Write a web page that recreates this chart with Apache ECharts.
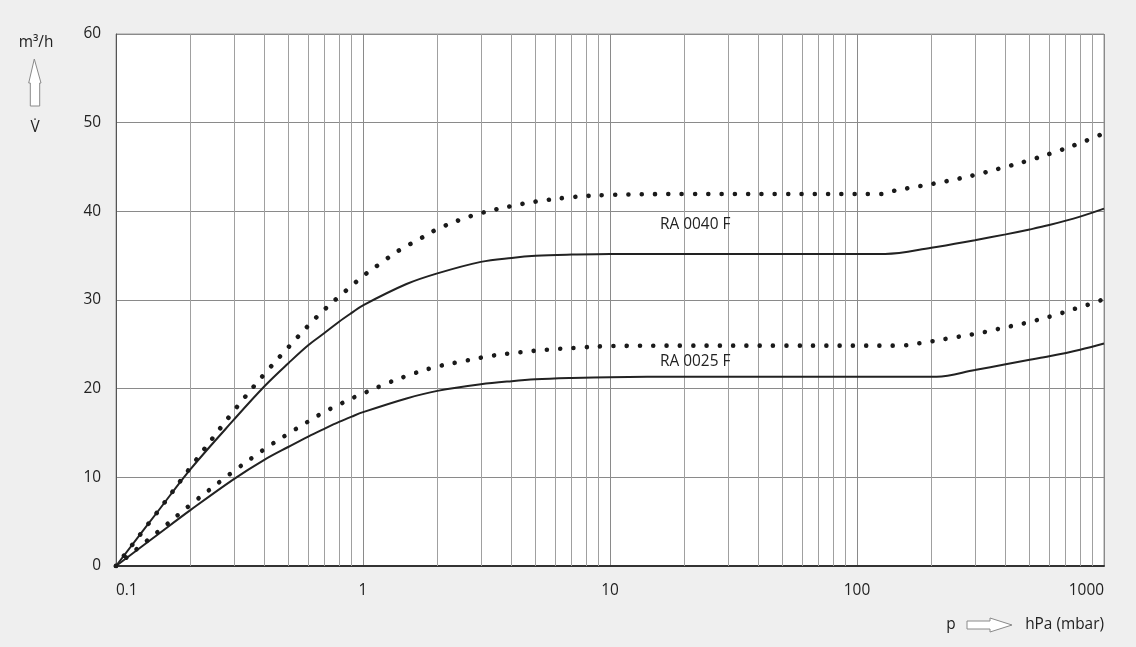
<!DOCTYPE html>
<html><head><meta charset="utf-8">
<script src="https://cdn.jsdelivr.net/npm/echarts@6/dist/echarts.min.js"></script>
<style>html,body{margin:0;padding:0;background:#efefef;}#c{width:1136px;height:647px;}</style>
</head><body><div id="c"></div>
<script>
// ---- data ----
const xTickLabels = [0.1, 1, 10, 100, 1000];
const minorGridP = [0.2,0.3,0.4,0.5,0.6,0.7,0.8,0.9, 2,3,4,5,6,7,8,9, 20,30,40,50,60,70,80,90, 200,300,400,500,600,700,800,900];
const yTicks = [0, 10, 20, 30, 40, 50, 60];

const p40 = [0.1,0.15,0.2,0.3,0.4,0.5,0.6,0.7,0.8,0.9,1,1.5,2,3,4,5,7,10,20,50,130,200,300,400,500,600,800,1000];
const v40 = [0,6.4,10.9,16.5,20.3,22.9,24.9,26.3,27.55,28.55,29.4,31.8,33.0,34.3,34.75,34.98,35.12,35.2,35.2,35.2,35.2,35.9,36.75,37.4,37.95,38.45,39.4,40.3];

const p40max = [0.1,0.15,0.2,0.3,0.4,0.5,0.6,0.7,0.8,0.9,1,1.2,1.4,1.7,2,2.5,3,4,5,7,10,20,50,125,140,180,230,300,380,490,620,800,1000];
const v40max = [0,6.4,11.1,17.5,21.7,24.7,27.1,28.95,30.4,31.6,32.7,34.3,35.6,36.9,38.0,39.1,39.8,40.6,41.1,41.6,41.85,41.95,41.95,41.95,42.3,42.85,43.4,44.1,44.85,45.7,46.6,47.7,48.8];

const p25 = [0.1,0.15,0.2,0.3,0.4,0.5,0.6,0.7,0.8,0.9,1,1.5,2,3,4,5,7,10,20,50,100,210,300,400,500,600,800,1000];
const v25 = [0,3.7,6.3,9.8,12.0,13.45,14.6,15.5,16.25,16.85,17.35,18.9,19.75,20.5,20.85,21.05,21.2,21.3,21.35,21.35,21.35,21.35,22.1,22.75,23.25,23.65,24.4,25.1];

const p25max = [0.1,0.15,0.2,0.3,0.4,0.5,0.6,0.7,0.8,0.9,1,1.25,1.6,2,2.6,3.3,4.3,5.6,7.2,10,20,50,150,176,197,250,290,330,420,480,616,780,890,1000];
const v25max = [0,4.0,6.9,10.7,13.2,14.95,16.3,17.4,18.2,18.9,19.45,20.6,21.7,22.5,23.15,23.7,24.1,24.4,24.6,24.8,24.85,24.85,24.85,25.1,25.3,25.8,26.1,26.4,27.05,27.4,28.2,29.1,29.6,30.1];

const curveNames = ['RA 0040 F', 'RA 0025 F'];
// ---- chart ----
const zip = (a, b) => a.map((x, i) => [x, b[i]]);
const FONT = '"Open Sans", "Noto Sans", sans-serif';
const FS = 15.4;
const solid = {type:'solid', width:2, color:'#222'};
const dotted = {type:[0.01, 13.3], cap:'round', width:4.6, color:'#1a1a1a'};

const chart = echarts.init(document.getElementById('c'), null, {renderer:'canvas'});
chart.setOption({
  backgroundColor:'#efefef',
  animation:false,
  textStyle:{fontFamily:FONT},
  grid:{left:116, right:32, top:34, bottom:81, show:true, backgroundColor:'#ffffff', borderColor:'#9a9a9a', borderWidth:1},
  xAxis:{
    type:'log', logBase:10, min:0.1, max:1000,
    axisLine:{show:true, lineStyle:{color:'#333', width:2}},
    axisTick:{show:false},
    axisLabel:{color:'#222', fontSize:FS, margin:17, fontFamily:FONT,
      alignMinLabel:'left', alignMaxLabel:'right',
      formatter:v => { const t = xTickLabels.find(x => Math.abs(x - v)/x < 1e-6); return t === undefined ? '' : String(t); }},
    splitLine:{show:true, lineStyle:{color:'#8a8a8a', width:1}}
  },
  yAxis:{
    type:'value', min:yTicks[0], max:yTicks[yTicks.length-1], interval:10,
    axisLine:{show:true, lineStyle:{color:'#555', width:1}},
    axisTick:{show:false},
    axisLabel:{color:'#222', fontSize:FS, margin:15, fontFamily:FONT},
    splitLine:{show:true, lineStyle:{color:'#8a8a8a', width:1}}
  },
  series:[
    {type:'line', name:'grid', data:[], silent:true,
     markLine:{silent:true, symbol:'none', label:{show:false}, animation:false,
       lineStyle:{color:'#a0a0a0', width:1, type:'solid'},
       data: minorGridP.map(p => ({xAxis:p}))}},
    {type:'line', name:curveNames[0], data:zip(p40, v40), smooth:0.35, showSymbol:false, lineStyle:solid, z:5},
    {type:'line', name:curveNames[0]+' max', data:zip(p40max, v40max), smooth:0.35, showSymbol:false, lineStyle:dotted, z:5},
    {type:'line', name:curveNames[1], data:zip(p25, v25), smooth:0.35, showSymbol:false, lineStyle:solid, z:5},
    {type:'line', name:curveNames[1]+' max', data:zip(p25max, v25max), smooth:0.35, showSymbol:false, lineStyle:dotted, z:5}
  ],
  graphic:[
    {type:'text', x:660, y:225, style:{text:curveNames[0], fontSize:FS, fill:'#222', fontFamily:FONT, verticalAlign:'middle'}, z:10},
    {type:'text', x:660, y:361.5, style:{text:curveNames[1], fontSize:FS, fill:'#222', fontFamily:FONT, verticalAlign:'middle'}, z:10},
    {type:'text', x:36, y:43, style:{text:'m³/h', fontSize:FS, fill:'#222', fontFamily:FONT, align:'center', verticalAlign:'middle'}},
    {type:'polygon', shape:{points:[[34.3,59],[41,83],[39.7,83],[39.7,106],[30.3,106],[30.3,83],[28.7,83]]},
      style:{fill:'#fff', stroke:'#8a8a8a', lineWidth:1}},
    {type:'text', x:35, y:128, style:{text:'V\u0307', fontSize:FS, fill:'#222', fontFamily:FONT, align:'center', verticalAlign:'middle'}},
    {type:'text', x:951, y:625, style:{text:'p', fontSize:FS, fill:'#222', fontFamily:FONT, align:'center', verticalAlign:'middle'}},
    {type:'polygon', shape:{points:[[967,621],[990,621],[990,618],[1012,625],[990,632],[990,629],[967,629]]},
      style:{fill:'#fff', stroke:'#8a8a8a', lineWidth:1}},
    {type:'text', x:1104, y:625, style:{text:'hPa (mbar)', fontSize:FS, fill:'#222', fontFamily:FONT, align:'right', verticalAlign:'middle'}}
  ]
});
</script></body></html>
